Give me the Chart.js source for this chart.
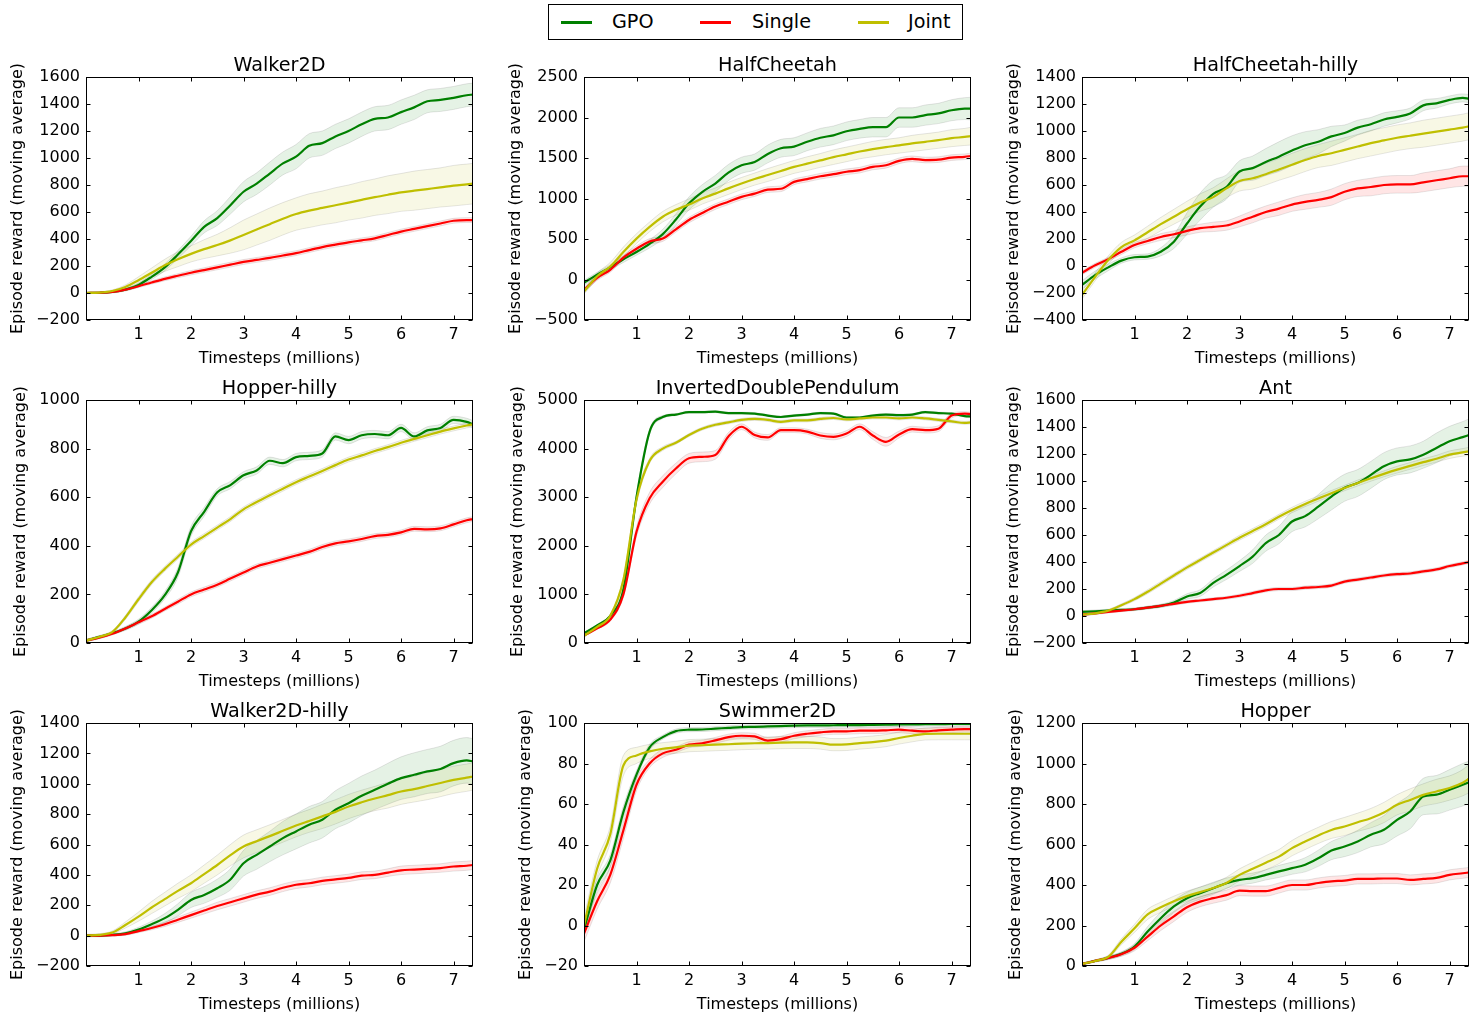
<!DOCTYPE html>
<html>
<head>
<meta charset="utf-8">
<script src="https://cdn.jsdelivr.net/npm/chart.js@4.4.1/dist/chart.umd.min.js"></script>
<style>
  body { margin: 0; background: #fff; font-family: 'DejaVu Sans', sans-serif; }
  #page { position: relative; width: 1481px; height: 1018px; overflow: hidden; }
  canvas { position: absolute; }
  #legend { position: absolute; left: 548px; top: 4px; width: 415px; height: 36px; border: 1px solid #000; box-sizing: border-box; }
  #legend .swatch { position: absolute; top: 16px; width: 31px; height: 2.5px; }
  #legend .label { position: absolute; top: 5px; font-size: 19.2px; line-height: 24px; color: #000; }
</style>
</head>
<body>
<div id="page">
  <div id="legend">
    <div class="swatch" style="left:12px;background:#008000"></div><div class="label" style="left:63px">GPO</div>
    <div class="swatch" style="left:151px;background:#ff0000"></div><div class="label" style="left:203px">Single</div>
    <div class="swatch" style="left:309px;background:#bfbf00"></div><div class="label" style="left:359px">Joint</div>
  </div>
</div>
<script>
// timesteps (millions) shared by all panels
const X = [0,0.25,0.5,0.75,1,1.25,1.5,1.75,2,2.25,2.5,2.75,3,3.25,3.5,3.75,4,4.25,4.5,4.75,5,5.25,5.5,5.75,6,6.25,6.5,6.75,7,7.25,7.37];
const xTicks = [1,2,3,4,5,6,7];

// Walker2D
const walkerGpo = [0,2,8,25,60,120,190,285,385,490,555,650,750,810,885,960,1010,1090,1110,1160,1200,1250,1290,1300,1340,1375,1420,1430,1445,1465,1470];
const walkerGpoSd = [5,5,8,10,15,20,25,30,35,45,55,65,75,80,85,85,90,90,90,90,90,90,90,90,90,90,85,85,85,85,85];
const walkerSingle = [0,2,8,25,50,78,105,128,150,170,190,210,230,245,260,278,295,318,340,358,375,390,405,430,455,475,495,515,535,540,540];
const walkerSingleSd = [3,3,5,8,10,12,14,15,16,17,18,18,18,18,18,18,18,18,18,18,18,18,18,18,18,18,18,18,18,18,18];
const walkerJoint = [0,3,15,45,95,150,205,250,290,325,355,390,430,470,510,550,585,610,630,650,670,690,710,728,745,758,770,782,795,805,810];
const walkerJointSd = [3,5,8,15,25,35,45,55,60,70,80,95,110,115,120,120,120,125,125,130,130,135,135,140,140,145,145,145,150,150,150];

// HalfCheetah
const hcGpo = [-40,60,150,250,340,440,560,740,940,1080,1185,1320,1410,1450,1550,1620,1640,1700,1750,1780,1830,1860,1880,1880,2000,2000,2030,2050,2090,2110,2110];
const hcGpoSd = [30,30,30,40,40,50,60,70,80,90,100,100,100,100,110,110,110,110,115,115,115,115,120,120,120,120,125,125,130,135,140];
const hcSingle = [-130,20,120,270,380,470,505,620,735,820,900,960,1020,1060,1110,1120,1205,1240,1275,1300,1330,1350,1390,1410,1465,1490,1475,1480,1505,1515,1525];
const hcSingleSd = [30,30,30,30,35,35,35,35,35,35,35,35,35,35,35,35,35,35,35,35,35,35,35,35,35,35,35,35,35,35,35];
const hcJoint = [-150,40,160,340,505,650,775,860,925,1000,1060,1125,1185,1240,1290,1340,1390,1430,1470,1510,1545,1580,1610,1635,1655,1680,1700,1720,1745,1760,1770];
const hcJointSd = [30,40,50,60,60,60,65,65,70,70,70,75,75,75,80,80,80,85,85,90,90,90,95,95,95,100,100,100,105,105,110];

// HalfCheetah-hilly
const hchGpo = [-140,-67,-10,40,65,70,105,180,315,440,535,585,700,725,770,810,855,895,920,960,985,1025,1050,1085,1105,1130,1190,1205,1230,1245,1240];
const hchGpoSd = [30,30,25,20,20,20,30,50,80,100,100,90,80,90,100,110,110,100,90,75,60,55,50,50,45,40,40,35,30,30,30];
const hchSingle = [-50,5,50,105,155,185,215,235,260,280,290,300,330,365,400,425,455,475,490,510,550,575,585,600,605,605,620,635,650,665,665];
const hchSingleSd = [15,15,15,20,20,20,25,25,30,30,35,35,40,45,45,50,50,55,55,60,60,60,65,65,65,65,70,70,70,75,75];
const hchJoint = [-215,-80,45,140,190,250,310,365,420,470,510,575,630,650,680,715,750,785,815,835,860,885,910,930,950,965,980,995,1010,1025,1035];
const hchJointSd = [30,30,30,35,40,45,50,55,60,65,70,70,75,80,80,80,85,85,85,90,90,90,95,95,95,95,100,100,100,100,100];

// Hopper-hilly
const hhGpo = [10,25,40,60,88,135,197,290,460,540,620,650,690,710,750,740,765,770,780,850,835,855,860,855,885,850,875,885,918,910,900];
const hhGpoSd = [5,5,5,8,10,12,15,20,20,18,15,15,15,15,15,15,15,15,15,15,15,15,15,15,15,15,15,15,15,15,15];
const hhSingle = [10,22,38,60,85,110,140,170,200,220,240,265,290,315,330,345,360,375,395,410,418,428,440,445,455,470,468,472,488,505,510];
const hhSingleSd = [5,5,5,6,8,8,8,10,10,10,10,10,10,10,10,10,10,10,10,10,10,10,10,10,10,10,10,10,10,10,10];
const hhJoint = [10,25,45,105,180,250,305,355,405,440,475,510,550,580,608,635,662,685,708,732,755,772,790,806,824,840,855,870,883,895,900];
const hhJointSd = [5,5,6,8,10,10,10,10,10,10,10,10,10,10,10,10,10,10,10,10,10,10,10,10,10,10,10,10,10,10,10];

// InvertedDoublePendulum
const idpGpo = [200,360,560,1100,3000,4350,4650,4700,4750,4750,4760,4730,4730,4720,4680,4650,4680,4700,4730,4720,4640,4640,4680,4700,4690,4700,4750,4730,4720,4670,4660];
const idpGpoSd = [20,20,30,60,80,50,30,20,20,20,20,20,20,20,20,20,20,20,20,20,20,20,20,20,20,20,20,20,20,20,20];
const idpSingle = [150,300,480,1000,2290,2980,3320,3590,3800,3830,3870,4250,4450,4280,4230,4380,4380,4350,4270,4240,4310,4450,4270,4140,4290,4400,4380,4410,4680,4720,4710];
const idpSingleSd = [20,20,30,60,100,120,120,110,100,100,90,80,60,60,60,50,50,50,60,60,60,60,80,90,70,60,60,60,50,40,40];
const idpJoint = [150,330,560,1300,2950,3750,4000,4120,4280,4410,4490,4540,4590,4610,4590,4550,4580,4580,4610,4630,4600,4620,4640,4640,4620,4640,4620,4590,4560,4530,4540];
const idpJointSd = [20,20,30,60,80,50,40,30,30,30,30,30,30,30,30,30,30,30,30,30,30,30,30,30,30,30,30,30,30,30,30];

// Ant
const antGpo = [30,35,40,45,50,62,75,100,145,170,245,305,370,440,540,600,700,740,810,885,950,985,1045,1110,1145,1160,1195,1245,1295,1325,1340];
const antGpoSd = [10,10,10,10,10,10,12,15,20,25,30,35,40,50,60,65,75,80,90,100,100,100,100,100,100,100,100,110,110,115,120];
const antSingle = [10,20,30,40,50,62,75,90,105,115,125,135,150,170,190,200,200,210,215,225,255,270,285,300,310,315,330,345,370,390,400];
const antSingleSd = [8,8,8,8,8,10,10,10,10,10,10,10,12,12,12,12,12,12,12,12,12,12,12,12,12,12,12,12,12,12,12];
const antJoint = [10,20,40,80,125,180,240,300,360,415,470,525,580,630,680,735,785,830,870,910,948,985,1020,1053,1084,1112,1140,1165,1195,1212,1220];
const antJointSd = [8,8,8,10,12,15,15,15,15,15,15,15,18,18,18,18,20,20,20,20,20,22,22,22,25,25,25,25,28,28,30];

// Walker2D-hilly
const w2hGpo = [0,0,5,15,40,75,115,170,235,268,312,370,477,532,587,642,686,730,763,829,872,921,960,1000,1037,1059,1081,1097,1136,1154,1147];
const w2hGpoSd = [8,8,8,10,15,20,30,40,50,55,60,70,85,95,100,110,115,120,120,125,130,130,130,135,140,145,145,150,150,150,150];
const w2hSingle = [0,0,3,10,30,50,75,105,135,165,195,220,245,270,290,315,335,345,360,370,380,395,400,415,430,435,440,445,455,460,465];
const w2hSingleSd = [5,5,5,8,10,12,15,18,20,22,25,25,25,25,25,25,25,25,25,25,25,25,25,25,28,28,28,28,30,30,30];
const w2hJoint = [0,5,20,70,125,185,240,295,345,405,465,530,587,622,655,690,725,755,785,815,850,878,903,925,949,965,985,1005,1026,1040,1048];
const w2hJointSd = [8,8,10,20,30,40,45,50,55,60,65,70,75,75,75,75,75,75,80,80,80,80,80,85,85,85,90,90,90,90,90];

// Swimmer2D
const swGpo = [-2,20,32,56,74.5,88,93,96,96.7,96.8,97.2,97.6,98,98.1,98.3,98.5,98.7,98.8,98.8,98.9,99,99,99.1,99.2,99.3,99.3,99.4,99.4,99.5,99.5,99.5];
const swGpoSd = [3,3,3,3,2,1.5,1,1,1,1,1,1,1,1,1,1,1,1,1,1,1,1,1,1,1,1,1,1,1,1,1];
const swSingle = [-4,12,25,47,69.5,80,85,86.8,89.3,90,91.4,93,93.7,93.4,91.3,92,93.7,94.7,95.4,95.9,95.9,96.2,96.2,96.4,96.7,96.2,95.9,96.4,96.7,97,97];
const swSingleSd = [4,4,4,4,3,2,2,1.5,1.5,1.5,1.5,1.5,1.5,1.5,1.5,1.5,1.5,1.5,1.5,1.5,1.5,1.5,1.5,1.5,1.5,1.5,1.5,1.5,1.5,1.5,1.5];
const swJoint = [0,28,45,79,84,86,87.3,88,88.8,89,89.3,89.5,89.8,90,90.1,90.3,90.4,90.4,90.1,89.3,89.4,90.1,90.6,91.3,92.6,93.7,94.6,94.7,94.7,94.7,94.7];
const swJointSd = [4,4,4,5,4,3.5,3,3,3,3,3,3,3,3,3,3,3,3,3,3,3,3,3,3,3,3,3,3,3,3,3];

// Hopper
const hopGpo = [10,25,40,60,96,170,236,294,335,360,384,409,425,434,450,467,483,500,532,570,590,615,648,673,722,763,837,846,870,895,907];
const hopGpoSd = [5,5,8,10,15,25,30,30,30,30,30,25,25,25,25,30,30,35,40,45,50,55,60,70,80,85,90,95,100,105,105];
const hopSingle = [10,25,40,58,90,145,200,245,290,318,335,350,372,370,370,385,400,400,410,418,422,430,430,432,432,425,430,435,450,458,462];
const hopSingleSd = [5,5,8,10,15,20,25,25,25,25,25,25,25,25,25,25,25,25,25,25,25,25,25,25,25,25,25,25,25,25,25];
const hopJoint = [10,25,45,120,186,255,290,320,345,365,385,410,450,480,510,540,582,615,645,672,689,710,730,758,796,820,845,862,879,905,925];
const hopJointSd = [5,5,8,15,20,25,25,25,25,25,25,28,30,32,35,35,38,40,40,42,45,45,48,50,50,55,55,60,60,65,70];

// panel layout (plot area positions)
const colLeft = [86, 584, 1082];
const rowTop = [77, 400, 723];
const plotW = 387, plotH = 243;
const yAxisW = 86, titleH = 36, xAxisH = 52, rightPad = 8;

const panels = [
  { title: 'Walker2D', col: 0, row: 0, yMin: -200, yMax: 1600, yStep: 200, yGap: 8.4,
    g: [walkerGpo, walkerGpoSd], s: [walkerSingle, walkerSingleSd], j: [walkerJoint, walkerJointSd] },
  { title: 'HalfCheetah', col: 1, row: 0, yMin: -500, yMax: 2500, yStep: 500, yGap: 8.4,
    g: [hcGpo, hcGpoSd], s: [hcSingle, hcSingleSd], j: [hcJoint, hcJointSd] },
  { title: 'HalfCheetah-hilly', col: 2, row: 0, yMin: -400, yMax: 1400, yStep: 200, yGap: 8.4,
    g: [hchGpo, hchGpoSd], s: [hchSingle, hchSingleSd], j: [hchJoint, hchJointSd] },
  { title: 'Hopper-hilly', col: 0, row: 1, yMin: 0, yMax: 1000, yStep: 200, yGap: 11.4,
    g: [hhGpo, hhGpoSd], s: [hhSingle, hhSingleSd], j: [hhJoint, hhJointSd] },
  { title: 'InvertedDoublePendulum', col: 1, row: 1, yMin: 0, yMax: 5000, yStep: 1000, yGap: 10.4,
    g: [idpGpo, idpGpoSd], s: [idpSingle, idpSingleSd], j: [idpJoint, idpJointSd] },
  { title: 'Ant', col: 2, row: 1, yMin: -200, yMax: 1600, yStep: 200, yGap: 8.4,
    g: [antGpo, antGpoSd], s: [antSingle, antSingleSd], j: [antJoint, antJointSd] },
  { title: 'Walker2D-hilly', col: 0, row: 2, yMin: -200, yMax: 1400, yStep: 200, yGap: 8.4,
    g: [w2hGpo, w2hGpoSd], s: [w2hSingle, w2hSingleSd], j: [w2hJoint, w2hJointSd] },
  { title: 'Swimmer2D', col: 1, row: 2, yMin: -20, yMax: 100, yStep: 20, yGap: 18.4,
    g: [swGpo, swGpoSd], s: [swSingle, swSingleSd], j: [swJoint, swJointSd] },
  { title: 'Hopper', col: 2, row: 2, yMin: 0, yMax: 1200, yStep: 200, yGap: 10.4,
    g: [hopGpo, hopGpoSd], s: [hopSingle, hopSingleSd], j: [hopJoint, hopJointSd] }
];

const colors = {
  g: { line: '#008000', fill: 'rgba(0,128,0,0.1)' },
  s: { line: '#ff0000', fill: 'rgba(255,0,0,0.1)' },
  j: { line: '#bfbf00', fill: 'rgba(191,191,0,0.1)' }
};
const bandEdge = 'rgba(0,0,0,0.1)';

Chart.defaults.font.family = "'DejaVu Sans', sans-serif";
Chart.defaults.color = '#000';

function pts(vals) { return vals.map((v, i) => ({ x: X[i], y: v })); }
function bandPts(vals, sd, sign) { return vals.map((v, i) => ({ x: X[i], y: v + sign * sd[i] })); }

// frame round the plot with inward ticks on all four sides, title centred over the plot
const frameTicks = {
  id: 'frameTicks',
  afterDraw(chart, args, opts) {
    const { ctx, chartArea: a, scales: { x, y } } = chart;
    const L = Math.round(a.left) + 0.5, R = Math.round(a.right) - 0.5;
    const T = Math.round(a.top) + 0.5, B = Math.round(a.bottom) - 0.5;
    ctx.save();
    ctx.strokeStyle = '#000';
    ctx.lineWidth = 1;
    ctx.beginPath();
    x.ticks.forEach(t => {
      const px = Math.round(x.getPixelForValue(t.value)) + 0.5;
      ctx.moveTo(px, B); ctx.lineTo(px, B - 4);
      ctx.moveTo(px, T); ctx.lineTo(px, T + 4);
    });
    y.ticks.forEach(t => {
      const py = Math.round(y.getPixelForValue(t.value)) + 0.5;
      ctx.moveTo(L, py); ctx.lineTo(L + 4, py);
      ctx.moveTo(R, py); ctx.lineTo(R - 4, py);
    });
    ctx.stroke();
    ctx.strokeRect(L, T, R - L, B - T);
    ctx.fillStyle = '#000';
    ctx.font = "19.2px 'DejaVu Sans', sans-serif";
    ctx.textAlign = 'center';
    ctx.textBaseline = 'alphabetic';
    ctx.fillText(opts.title, (a.left + a.right) / 2, a.top - 6);
    ctx.restore();
  }
};

const page = document.getElementById('page');

panels.forEach(p => {
  const canvas = document.createElement('canvas');
  const w = yAxisW + plotW + rightPad, h = titleH + plotH + xAxisH;
  canvas.width = w; canvas.height = h;
  canvas.style.width = w + 'px'; canvas.style.height = h + 'px';
  canvas.style.left = (colLeft[p.col] - yAxisW) + 'px';
  canvas.style.top = (rowTop[p.row] - titleH) + 'px';
  page.appendChild(canvas);

  const datasets = [];
  ['g', 's', 'j'].forEach(k => {
    const [vals, sd] = p[k];
    datasets.push({ data: bandPts(vals, sd, 1), fill: '+1', backgroundColor: colors[k].fill,
      borderColor: bandEdge, borderWidth: 1, pointRadius: 0, order: 10,
      cubicInterpolationMode: 'monotone' });
    datasets.push({ data: bandPts(vals, sd, -1), fill: false,
      borderColor: bandEdge, borderWidth: 1, pointRadius: 0, order: 10,
      cubicInterpolationMode: 'monotone' });
  });
  const lineOrder = { g: 3, s: 2, j: 1 };
  ['g', 's', 'j'].forEach(k => {
    datasets.push({ data: pts(p[k][0]), fill: false, borderColor: colors[k].line,
      borderWidth: 2.2, pointRadius: 0, order: lineOrder[k],
      cubicInterpolationMode: 'monotone' });
  });

  new Chart(canvas, {
    type: 'line',
    data: { datasets },
    options: {
      animation: false,
      responsive: false,
      devicePixelRatio: 1,
      events: [],
      layout: { padding: { top: titleH, right: rightPad } },
      plugins: {
        legend: { display: false },
        tooltip: { enabled: false },
        title: { display: false },
        frameTicks: { title: p.title }
      },
      scales: {
        x: {
          type: 'linear', min: 0, max: 7.37,
          grid: { display: false, drawTicks: false },
          border: { display: false },
          afterBuildTicks: s => { s.ticks = xTicks.map(v => ({ value: v })); },
          afterFit: s => { s.height = xAxisH; },
          ticks: { padding: 5, font: { size: 16 }, maxRotation: 0, autoSkip: false },
          title: { display: true, text: 'Timesteps (millions)', font: { size: 16 },
            padding: { top: 0, bottom: 3.4 } }
        },
        y: {
          min: p.yMin, max: p.yMax,
          grid: { display: false, drawTicks: false },
          border: { display: false },
          afterFit: s => { s.width = yAxisW; },
          ticks: { stepSize: p.yStep, padding: 6, font: { size: 16 },
            callback: v => v < 0 ? '\u2212' + Math.abs(v) : String(v) },
          title: { display: true, text: 'Episode reward (moving average)', font: { size: 16 },
            padding: { top: p.yGap, bottom: 0 } }
        }
      }
    },
    plugins: [frameTicks]
  });
});
</script>
</body>
</html>
